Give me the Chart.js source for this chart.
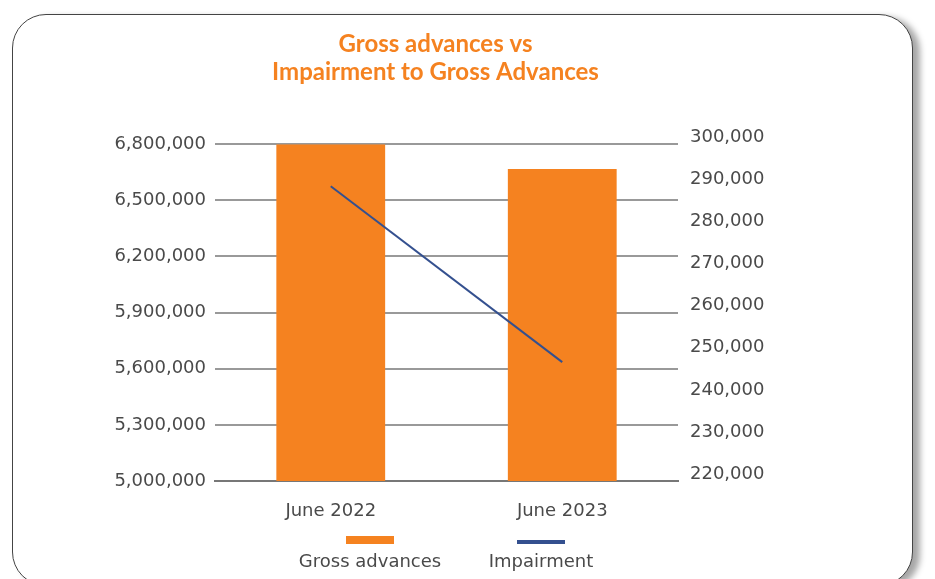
<!DOCTYPE html>
<html lang="en">
<head>
    <meta charset="UTF-8">
    <title>Gross advances vs Impairment to Gross Advances</title>
    <style>
        html, body { margin: 0; padding: 0; background: #fff; overflow: hidden; }
        #frame {
            position: absolute; left: 12px; top: 14px; width: 899px; height: 570px;
            border: 1.5px solid #444; border-radius: 34px;
            box-shadow: 7px 3px 6px rgba(0,0,0,0.35);
            background: #fff;
        }
        #wrap { position: absolute; left: 0; top: 0; width: 935px; height: 579px; }
        #legend {
            position: absolute; top: 536px; left: 0; width: 935px; height: 40px;
            font-family: "DejaVu Sans", sans-serif; font-size: 18px; color: #4a4a4a;
        }
        .item { position: absolute; text-align: center; }
        .item .sw { margin: 0 auto; width: 48px; }
        .item span { display: block; white-space: nowrap; margin-top: 6px; }
    </style>
</head>
<body>
    <div id="frame"></div>
    <div id="wrap"><canvas id="chart" width="935" height="579"></canvas></div>
    <div id="legend"></div>
    <script src="https://cdn.jsdelivr.net/npm/chart.js"></script>
    <script>
        // chart values
        const categories = ['June 2022', 'June 2023'];
        const grossAdvances = [6800000, 6667000];
        const impairment = [288300, 246600];
        const leftTicks = [5000000, 5300000, 5600000, 5900000, 6200000, 6500000, 6800000];
        const rightTicks = [220000, 230000, 240000, 250000, 260000, 270000, 280000, 290000, 300000];
        // the right axis in the picture sits a little higher than the left one
        const rightMin = 218400;
        const rightMax = 298300;

        const orange = '#F58220';
        const navy = '#34508F';
        const textGrey = '#4a4a4a';
        const labelFont = { family: 'DejaVu Sans', size: 18 };

        const fmt = v => v.toLocaleString('en-US');

        new Chart(document.getElementById('chart'), {
            data: {
                labels: categories,
                datasets: [
                    {
                        type: 'line',
                        label: 'Impairment',
                        data: impairment,
                        yAxisID: 'y1',
                        borderColor: navy,
                        borderWidth: 2,
                        pointRadius: 0,
                        order: 0
                    },
                    {
                        type: 'bar',
                        label: 'Gross advances',
                        data: grossAdvances,
                        yAxisID: 'y',
                        backgroundColor: orange,
                        barPercentage: 0.47,
                        categoryPercentage: 1,
                        order: 1
                    }
                ]
            },
            options: {
                responsive: false,
                animation: false,
                layout: { padding: { left: 93, right: 157, top: 0, bottom: 58 } },
                plugins: {
                    legend: { display: false },
                    tooltip: { enabled: false },
                    title: {
                        display: true,
                        text: ['Gross advances vs', 'Impairment to Gross Advances'],
                        color: orange,
                        font: { family: 'Lato', size: 24, weight: 'bold', lineHeight: 1.17 },
                        padding: { top: 30, bottom: 58 }
                    }
                },
                scales: {
                    x: {
                        grid: { display: false },
                        border: { display: true, color: '#777', width: 2 },
                        ticks: { color: textGrey, font: labelFont, padding: 12 },
                        afterFit: s => { s.height = 40; }
                    },
                    y: {
                        position: 'left',
                        min: 5000000, max: 6800000,
                        afterBuildTicks: s => { s.ticks = leftTicks.map(v => ({ value: v })); },
                        grid: { color: '#999', lineWidth: 2, drawTicks: false },
                        border: { display: false },
                        ticks: { color: textGrey, font: labelFont, padding: 9, callback: v => fmt(v) },
                        afterFit: s => { s.width = 122; }
                    },
                    y1: {
                        position: 'right',
                        min: rightMin, max: rightMax,
                        afterBuildTicks: s => { s.ticks = rightTicks.map(v => ({ value: v })); },
                        grid: { display: false, drawTicks: false },
                        border: { display: false },
                        ticks: { color: textGrey, font: labelFont, padding: 12, callback: v => fmt(v) },
                        afterFit: s => { s.width = 100; }
                    }
                }
            }
        });

        // legend: swatch above label
        const legendItems = [
            { text: 'Gross advances', color: orange, h: 8, center: 370 },
            { text: 'Impairment', color: navy, h: 4, center: 541 }
        ];
        const legend = document.getElementById('legend');
        legendItems.forEach(it => {
            const d = document.createElement('div');
            d.className = 'item';
            d.style.left = (it.center - 100) + 'px';
            d.style.width = '200px';
            d.style.top = (8 - it.h) + 'px';
            d.innerHTML = '<div class="sw" style="height:' + it.h + 'px;background:' + it.color + '"></div>' +
                '<span>' + it.text + '</span>';
            legend.appendChild(d);
        });
    </script>
</body>
</html>
